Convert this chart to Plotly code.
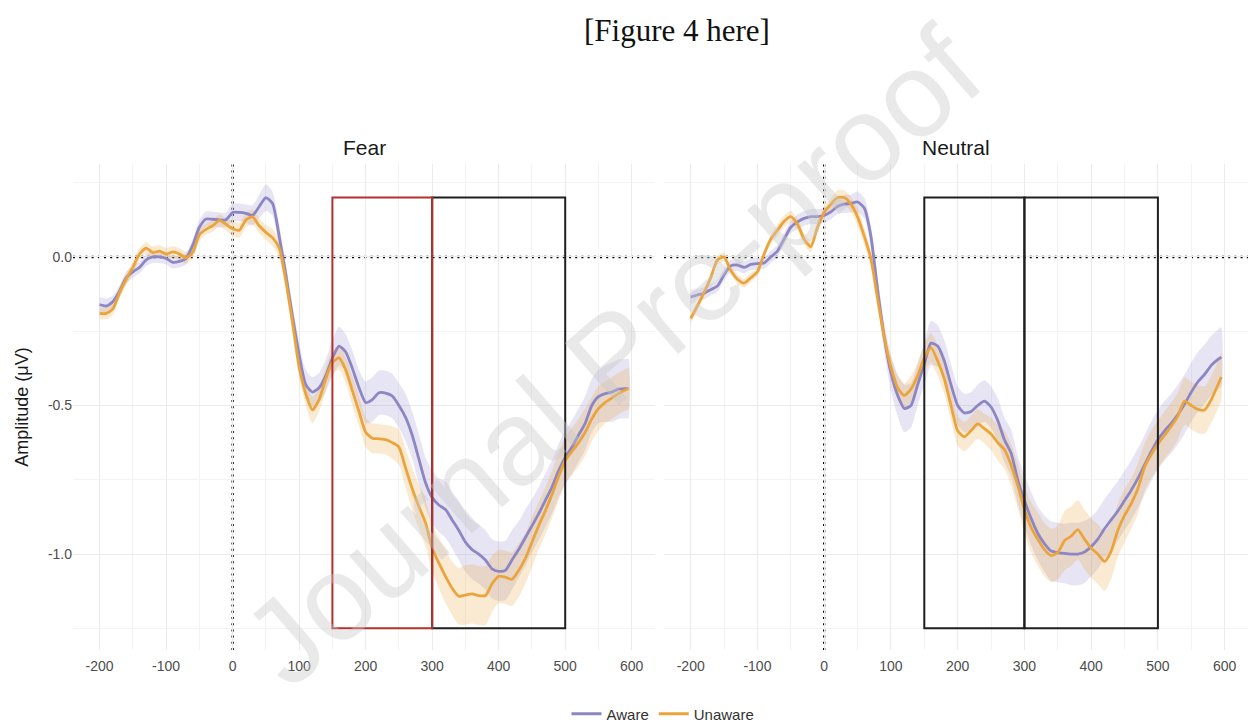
import plotly.graph_objects as go

# ---------------- data ----------------
time_ms = [-200, -190, -180, -170, -160, -150, -140, -130, -120, -110,
           -100, -90, -80, -70, -60, -50, -40, -30, -20, -10,
           0, 10, 20, 30, 40, 50, 60, 70, 80, 90,
           100, 110, 120, 130, 140, 150, 160, 170, 180, 190,
           200, 210, 220, 230, 240, 250, 260, 270, 280, 290,
           300, 310, 320, 330, 340, 350, 360, 370, 380, 390,
           400, 410, 420, 430, 440, 450, 460, 470, 480, 490,
           500, 510, 520, 530, 540, 550, 560, 570, 580, 590, 595]

fear_aware = [-0.16, -0.165, -0.15, -0.115, -0.07, -0.05, -0.035, -0.01, 0.0, 0.0,
              -0.005, -0.018, -0.015, -0.005, 0.04, 0.1, 0.128, 0.127, 0.125, 0.125,
              0.15, 0.15, 0.147, 0.14, 0.17, 0.2, 0.18, 0.07, -0.06, -0.2,
              -0.33, -0.43, -0.455, -0.44, -0.4, -0.34, -0.3, -0.32, -0.375, -0.44,
              -0.49, -0.48, -0.457, -0.458, -0.468, -0.5, -0.54, -0.6, -0.68, -0.76,
              -0.81, -0.835, -0.85, -0.885, -0.92, -0.96, -0.985, -1.0, -1.02, -1.05,
              -1.058, -1.055, -1.02, -0.985, -0.945, -0.905, -0.865, -0.82, -0.775, -0.72,
              -0.675, -0.64, -0.6, -0.56, -0.5, -0.47, -0.46, -0.455, -0.445, -0.443, -0.443]
fear_aware_se = [0.025, 0.025, 0.02, 0.02, 0.02, 0.02, 0.02, 0.02, 0.02, 0.02,
                 0.02, 0.02, 0.02, 0.02, 0.02, 0.025, 0.025, 0.025, 0.025, 0.025,
                 0.03, 0.03, 0.03, 0.035, 0.04, 0.045, 0.04, 0.04, 0.04, 0.04,
                 0.045, 0.05, 0.05, 0.05, 0.055, 0.06, 0.065, 0.06, 0.06, 0.06,
                 0.07, 0.075, 0.075, 0.075, 0.075, 0.075, 0.08, 0.08, 0.085, 0.085,
                 0.09, 0.09, 0.095, 0.095, 0.1, 0.1, 0.1, 0.1, 0.1, 0.1,
                 0.1, 0.1, 0.1, 0.095, 0.095, 0.09, 0.09, 0.09, 0.09, 0.09,
                 0.09, 0.09, 0.09, 0.09, 0.09, 0.09, 0.095, 0.1, 0.1, 0.1, 0.1]

fear_unaware = [-0.19, -0.19, -0.175, -0.12, -0.075, -0.035, 0.01, 0.03, 0.015, 0.02,
                0.01, 0.017, 0.01, -0.003, 0.015, 0.075, 0.093, 0.105, 0.123, 0.11,
                0.095, 0.09, 0.125, 0.135, 0.105, 0.083, 0.065, 0.03, -0.08, -0.22,
                -0.37, -0.46, -0.515, -0.48, -0.41, -0.355, -0.34, -0.38, -0.45, -0.52,
                -0.59, -0.61, -0.612, -0.615, -0.625, -0.64, -0.71, -0.78, -0.84, -0.895,
                -0.98, -1.03, -1.075, -1.115, -1.142, -1.138, -1.134, -1.14, -1.14, -1.1,
                -1.075, -1.078, -1.085, -1.055, -1.015, -0.96, -0.905, -0.855, -0.8, -0.74,
                -0.685, -0.655, -0.625, -0.59, -0.545, -0.51, -0.49, -0.475, -0.46, -0.448, -0.443]
fear_unaware_se = [0.02, 0.02, 0.02, 0.02, 0.02, 0.02, 0.02, 0.02, 0.02, 0.02,
                   0.02, 0.02, 0.02, 0.02, 0.02, 0.02, 0.02, 0.02, 0.02, 0.02,
                   0.025, 0.025, 0.025, 0.025, 0.025, 0.025, 0.03, 0.03, 0.03, 0.035,
                   0.035, 0.04, 0.045, 0.04, 0.04, 0.04, 0.04, 0.045, 0.05, 0.05,
                   0.05, 0.05, 0.05, 0.05, 0.055, 0.06, 0.065, 0.07, 0.075, 0.08,
                   0.08, 0.085, 0.09, 0.09, 0.095, 0.1, 0.1, 0.1, 0.1, 0.095,
                   0.09, 0.09, 0.09, 0.09, 0.085, 0.085, 0.08, 0.08, 0.08, 0.08,
                   0.08, 0.08, 0.08, 0.08, 0.075, 0.075, 0.07, 0.07, 0.07, 0.07, 0.07]

neutral_aware = [-0.135, -0.128, -0.122, -0.11, -0.098, -0.06, -0.03, -0.027, -0.035, -0.025,
                 -0.022, -0.02, 0.0, 0.02, 0.06, 0.1, 0.118, 0.13, 0.136, 0.136,
                 0.14, 0.152, 0.17, 0.178, 0.18, 0.185, 0.165, 0.07, -0.11, -0.27,
                 -0.39, -0.465, -0.51, -0.5, -0.43, -0.36, -0.29, -0.3, -0.35, -0.43,
                 -0.5, -0.525, -0.52, -0.5, -0.485, -0.505, -0.55, -0.615, -0.66, -0.75,
                 -0.82, -0.88, -0.93, -0.965, -0.99, -0.995, -0.998, -1.0, -1.0, -0.993,
                 -0.975, -0.95, -0.915, -0.885, -0.855, -0.82, -0.785, -0.745, -0.7, -0.655,
                 -0.615, -0.585, -0.56, -0.53, -0.495, -0.455, -0.42, -0.395, -0.365, -0.345, -0.337]
neutral_aware_se = [0.025, 0.02, 0.02, 0.02, 0.02, 0.02, 0.02, 0.02, 0.02, 0.02,
                    0.02, 0.02, 0.02, 0.02, 0.02, 0.02, 0.025, 0.025, 0.025, 0.025,
                    0.025, 0.025, 0.025, 0.03, 0.03, 0.035, 0.035, 0.04, 0.045, 0.05,
                    0.06, 0.07, 0.08, 0.075, 0.07, 0.07, 0.075, 0.07, 0.07, 0.07,
                    0.065, 0.065, 0.065, 0.07, 0.07, 0.07, 0.075, 0.075, 0.08, 0.08,
                    0.085, 0.09, 0.09, 0.095, 0.1, 0.1, 0.1, 0.105, 0.105, 0.105,
                    0.1, 0.1, 0.1, 0.1, 0.1, 0.1, 0.1, 0.1, 0.1, 0.1,
                    0.1, 0.1, 0.1, 0.1, 0.1, 0.1, 0.1, 0.1, 0.1, 0.1, 0.1]

neutral_unaware = [-0.207, -0.165, -0.12, -0.07, -0.01, 0.0, -0.045, -0.075, -0.088, -0.07,
                   -0.05, 0.01, 0.06, 0.09, 0.12, 0.136, 0.11, 0.06, 0.035, 0.1,
                   0.15, 0.178, 0.2, 0.2, 0.178, 0.135, 0.07, -0.005, -0.14, -0.27,
                   -0.37, -0.44, -0.466, -0.445, -0.4, -0.34, -0.305, -0.35, -0.41, -0.5,
                   -0.585, -0.605, -0.585, -0.562, -0.578, -0.596, -0.625, -0.648, -0.7, -0.77,
                   -0.85, -0.91, -0.95, -0.985, -1.005, -0.995, -0.955, -0.94, -0.918, -0.95,
                   -0.98, -1.0, -1.025, -0.99, -0.92, -0.87, -0.83, -0.78, -0.708, -0.665,
                   -0.63, -0.6, -0.57, -0.535, -0.485, -0.5, -0.513, -0.515, -0.48, -0.43, -0.404]
neutral_unaware_se = [0.015, 0.015, 0.015, 0.015, 0.015, 0.015, 0.015, 0.015, 0.015, 0.015,
                      0.015, 0.015, 0.015, 0.02, 0.02, 0.02, 0.02, 0.02, 0.02, 0.02,
                      0.02, 0.02, 0.025, 0.025, 0.025, 0.03, 0.03, 0.03, 0.03, 0.03,
                      0.035, 0.04, 0.04, 0.045, 0.045, 0.045, 0.05, 0.05, 0.05, 0.05,
                      0.05, 0.05, 0.05, 0.05, 0.05, 0.055, 0.06, 0.065, 0.07, 0.075,
                      0.08, 0.085, 0.09, 0.09, 0.09, 0.09, 0.1, 0.1, 0.1, 0.1,
                      0.1, 0.1, 0.1, 0.095, 0.09, 0.09, 0.085, 0.085, 0.08, 0.08,
                      0.08, 0.08, 0.08, 0.08, 0.08, 0.08, 0.08, 0.08, 0.08, 0.08, 0.08]

panels = ["Fear", "Neutral"]
groups = ["Aware", "Unaware"]
x_tick_vals = [-200, -100, 0, 100, 200, 300, 400, 500, 600]
x_tick_text = ["-200", "-100", "0", "100", "200", "300", "400", "500", "600"]
x_minor_vals = [-150, -50, 50, 150, 250, 350, 450, 550]
y_tick_vals = [-1.0, -0.5, 0.0]
y_tick_text = ["-1.0", "-0.5", "0.0"]
y_minor_vals = [-1.25, -0.75, -0.25, 0.25]
# analysis windows (ms) and their vertical extent (µV)
windows_fear = [(300, 500, "black"), (150, 300, "red")]
windows_neutral = [(150, 300, "black"), (300, 500, "black")]
window_ymin, window_ymax = -1.25, 0.2

# ---------------- style ----------------
line_colors = {"Aware": "#8C86C4", "Unaware": "#EBA43C"}
fill_colors = {"Aware": "rgba(140,134,196,0.21)", "Unaware": "rgba(235,164,60,0.23)"}
box_colors = {"black": "#1f1f1f", "red": "#B3302F"}

W, H = 1248, 722
ML, MR, MT, MB = 73, 0, 164, 72

series = {
    ("Fear", "Aware"): (fear_aware, fear_aware_se),
    ("Fear", "Unaware"): (fear_unaware, fear_unaware_se),
    ("Neutral", "Aware"): (neutral_aware, neutral_aware_se),
    ("Neutral", "Unaware"): (neutral_unaware, neutral_unaware_se),
}

fig = go.Figure()
axis_ids = {"Fear": ("x", "y"), "Neutral": ("x2", "y2")}

for panel in panels:
    xa, ya = axis_ids[panel]
    for g in groups:
        mean, se = series[(panel, g)]
        upper = [m + s for m, s in zip(mean, se)]
        lower = [m - s for m, s in zip(mean, se)]
        fig.add_trace(go.Scatter(
            x=time_ms + time_ms[::-1], y=upper + lower[::-1],
            fill="toself", fillcolor=fill_colors[g], line=dict(width=0, shape="spline", smoothing=0.6),
            mode="lines", hoverinfo="skip", showlegend=False, xaxis=xa, yaxis=ya))
    for g in groups:
        mean, se = series[(panel, g)]
        fig.add_trace(go.Scatter(
            x=time_ms, y=mean, mode="lines", name=g,
            line=dict(color=line_colors[g], width=2.8, shape="spline", smoothing=0.6),
            showlegend=(panel == "Fear"), legendgroup=g, xaxis=xa, yaxis=ya))

shapes = []
for panel, wins in (("Fear", windows_fear), ("Neutral", windows_neutral)):
    xa, ya = axis_ids[panel]
    # dotted reference lines
    shapes.append(dict(type="line", xref=f"{xa} domain", yref=ya, x0=0, x1=1, y0=0, y1=0,
                       line=dict(color="#000000", width=2.3, dash="2px,4.2px"), layer="below"))
    shapes.append(dict(type="line", xref=xa, yref=f"{ya} domain", x0=0, x1=0, y0=0, y1=1,
                       line=dict(color="#000000", width=2.3, dash="2px,4.2px"), layer="below"))
    for (a, b, c) in wins:
        shapes.append(dict(type="rect", xref=xa, yref=ya, x0=a, x1=b, y0=window_ymin, y1=window_ymax,
                           line=dict(color=box_colors[c], width=2), fillcolor="rgba(0,0,0,0)",
                           layer="above"))

pw = W - ML - MR
dom_fear = [0, (655 - ML) / pw]
dom_neut = [(664 - ML) / pw, 1]
xr = [-240, 635]
yr = [-1.323, 0.313]

tickfont = dict(family="Liberation Sans, Arial, sans-serif", size=14, color="#4D4D4D")
common_x = dict(range=xr, tickmode="array", tickvals=x_tick_vals, ticktext=x_tick_text,
                showgrid=True, gridcolor="#EBEBEB", gridwidth=1.4, zeroline=False,
                showline=False, ticks="", tickfont=tickfont, ticklabelstandoff=6,
                minor=dict(tickmode="array", tickvals=x_minor_vals, showgrid=True,
                           gridcolor="#F3F3F3", gridwidth=1.2, ticks=""))
common_y = dict(range=yr, tickmode="array", tickvals=y_tick_vals, ticktext=y_tick_text,
                showgrid=True, gridcolor="#EBEBEB", gridwidth=1.4, zeroline=False,
                showline=False, ticks="", tickfont=tickfont,
                minor=dict(tickmode="array", tickvals=y_minor_vals, showgrid=True,
                           gridcolor="#F3F3F3", gridwidth=1.2, ticks=""))

fig.update_layout(
    width=W, height=H,
    margin=dict(l=ML, r=MR, t=MT, b=MB, autoexpand=False),
    paper_bgcolor="white", plot_bgcolor="white",
    font=dict(family="Liberation Sans, Arial, sans-serif", color="#1A1A1A"),
    xaxis=dict(domain=dom_fear, anchor="y", **common_x),
    xaxis2=dict(domain=dom_neut, anchor="y2", **common_x),
    yaxis=dict(domain=[0, 1], anchor="x", **common_y,
               title=dict(text="Amplitude (μV)", font=dict(size=18, color="#1A1A1A"), standoff=14)),
    yaxis2=dict(domain=[0, 1], anchor="x2", matches="y", showticklabels=False,
                **{k: v for k, v in common_y.items() if k != "tickfont"}),
    shapes=shapes,
    showlegend=True,
    legend=dict(orientation="h", x=(663 - ML) / pw, xanchor="center", y=(650 - 714) / (650 - 164),
                yanchor="middle", font=dict(size=15, color="#333333"), bgcolor="rgba(0,0,0,0)",
                itemwidth=30, tracegroupgap=0),
)

def px_to_paper_x(px):
    return (px - ML) / pw

def px_to_paper_y(py):
    return (H - MB - py) / (H - MB - MT)

annotations = [
    dict(text="[Figure 4 here]", x=px_to_paper_x(677), y=px_to_paper_y(30), xref="paper", yref="paper",
         showarrow=False, xanchor="center", yanchor="middle",
         font=dict(family="Liberation Serif, Times New Roman, serif", size=31, color="#111111")),
    dict(text="Fear", x=sum(dom_fear) / 2, y=px_to_paper_y(147), xref="paper", yref="paper",
         showarrow=False, xanchor="center", yanchor="middle", font=dict(size=21, color="#1A1A1A")),
    dict(text="Neutral", x=sum(dom_neut) / 2, y=px_to_paper_y(147), xref="paper", yref="paper",
         showarrow=False, xanchor="center", yanchor="middle", font=dict(size=21, color="#1A1A1A")),
    dict(text="Journal Pre-proof", x=px_to_paper_x(612), y=px_to_paper_y(356), xref="paper", yref="paper",
         showarrow=False, xanchor="center", yanchor="middle", textangle=-41,
         font=dict(family="Liberation Sans, Arial, sans-serif", size=120, color="rgba(200,200,200,0.40)")),
]
fig.update_layout(annotations=annotations)

fig.write_html("out.html")
